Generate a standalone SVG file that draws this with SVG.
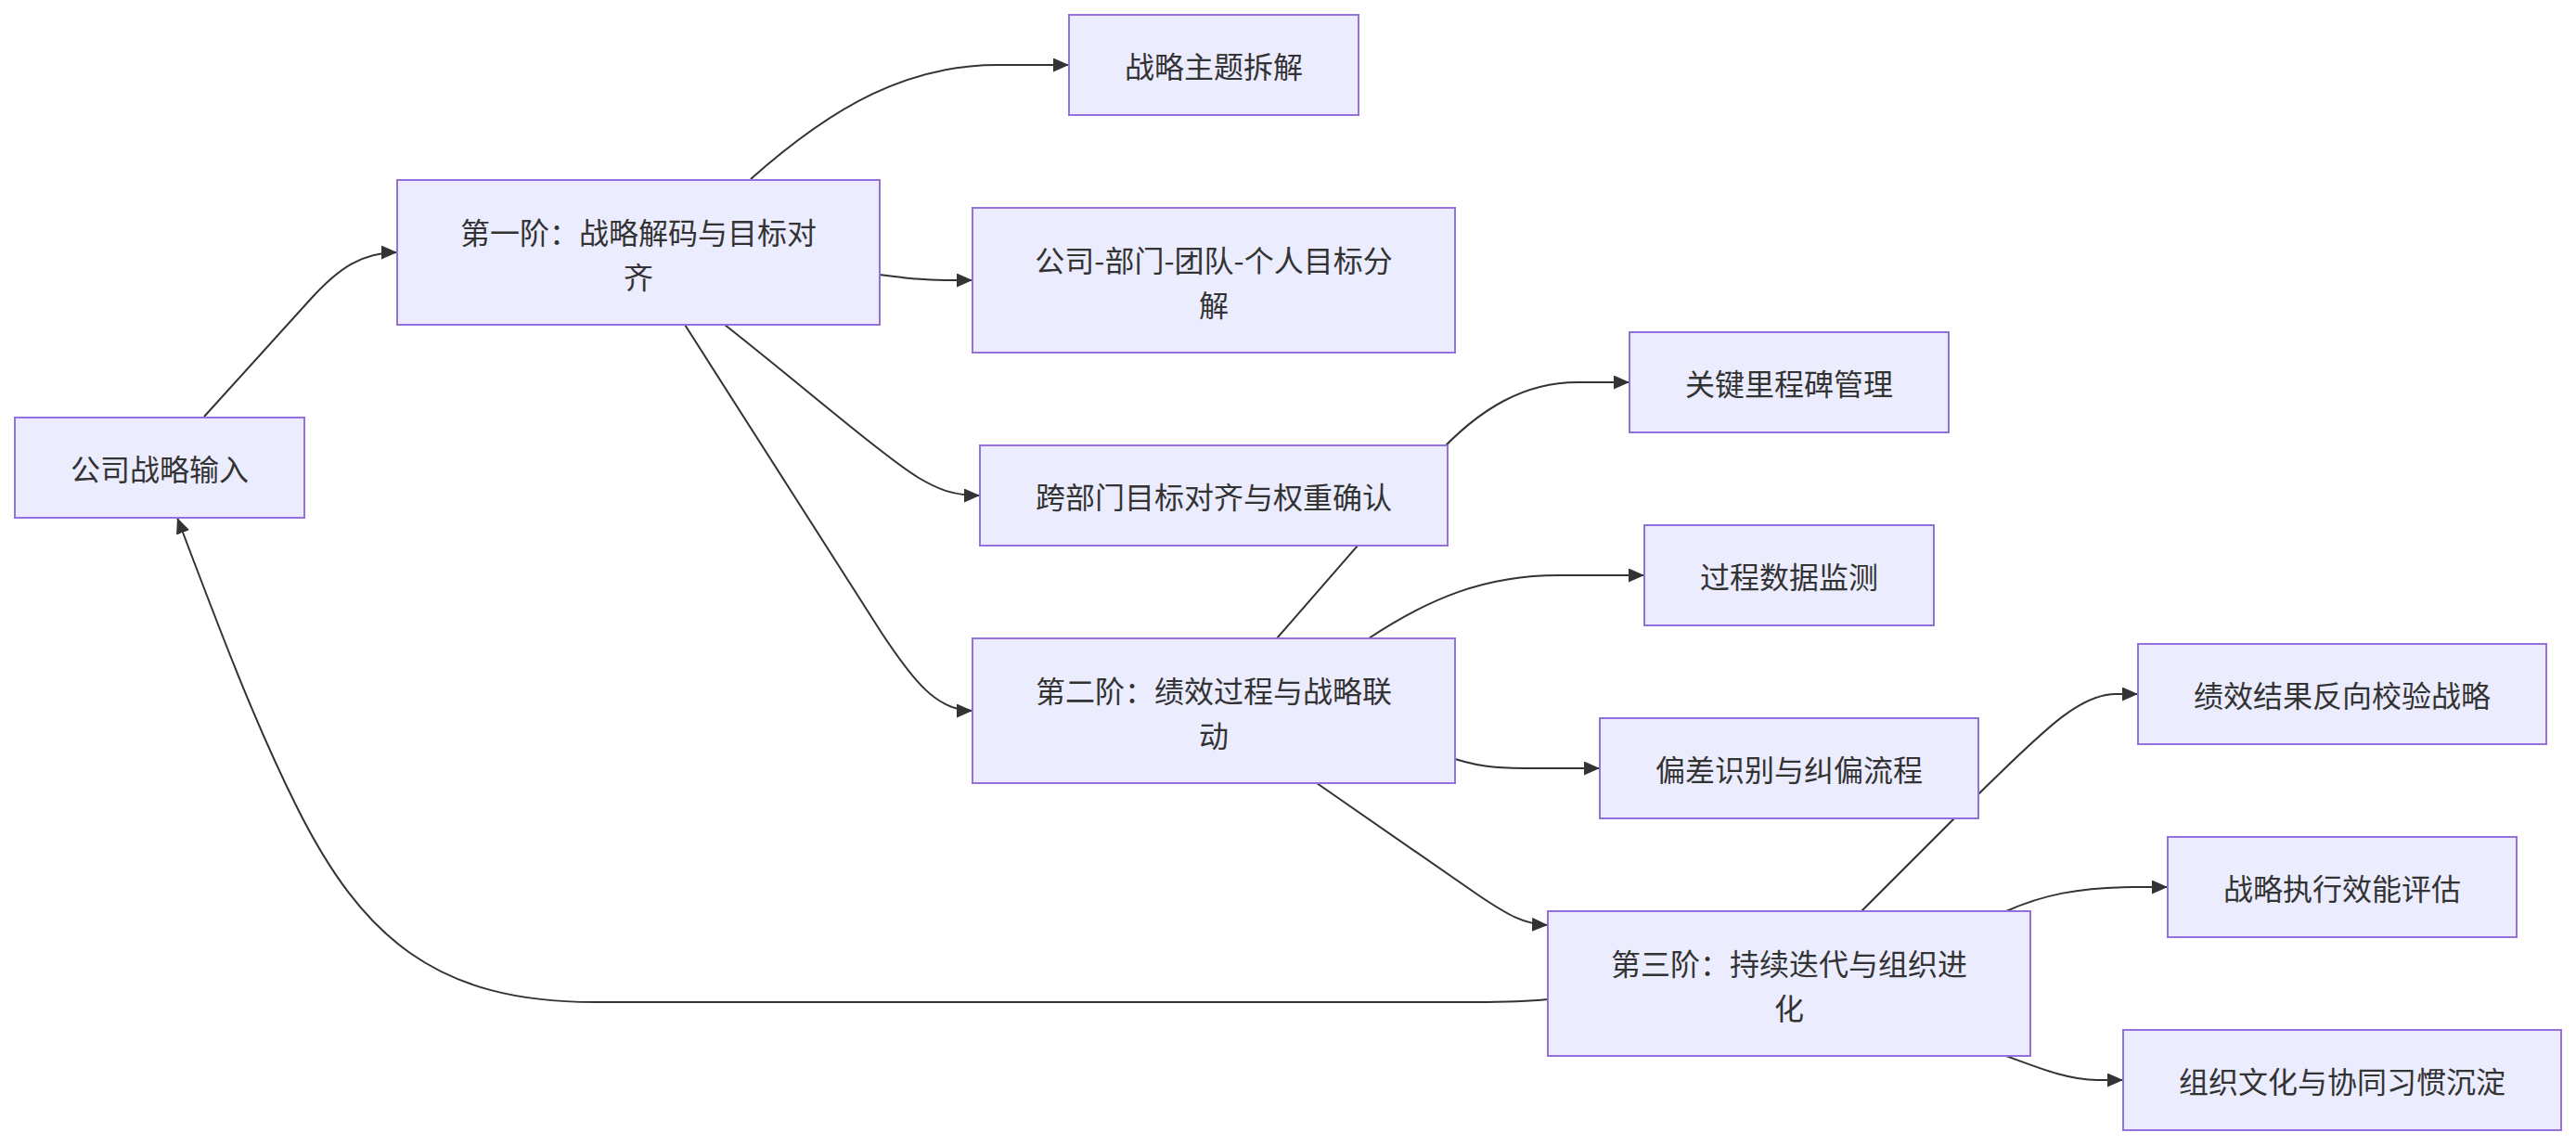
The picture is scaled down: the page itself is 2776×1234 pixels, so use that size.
<svg xmlns="http://www.w3.org/2000/svg" width="2776" height="1234" viewBox="0 0 2776 1234">
<defs>
<style>
.node rect{fill:#ECECFF;stroke:#9370DB;stroke-width:2}
.node text{font-family:"Noto Sans CJK SC","Noto Sans",sans-serif;font-size:32px;fill:#333;text-anchor:middle;dominant-baseline:central}
.edge{fill:none;stroke:#333;stroke-width:2}
</style>
<marker id="arr" markerUnits="userSpaceOnUse" markerWidth="18" markerHeight="16" refX="17" refY="7.5" orient="auto">
<path d="M0,0 L17,7.5 L0,15 z" fill="#333"/>
</marker>
</defs>
<rect width="2776" height="1234" fill="#fff"/>
<g id="edges">
<path class="edge" marker-end="url(#arr)" d="M220,449 L335,322 C365,289 390,272 428,272"/>
<path class="edge" marker-end="url(#arr)" d="M809,193 C900,112 980,70 1075,70 L1152,70"/>
<path class="edge" marker-end="url(#arr)" d="M948,296 C980,300 995,302 1020,302 L1048,302"/>
<path class="edge" marker-end="url(#arr)" d="M781,350 C860,412 950,490 990,515 C1012,528 1028,534 1056,534"/>
<path class="edge" marker-end="url(#arr)" d="M738,350 L950,682 C985,735 1010,766 1048,766"/>
<path class="edge" marker-end="url(#arr)" d="M1308,766 L1545,494 C1595,438 1645,412 1700,412 L1756,412"/>
<path class="edge" marker-end="url(#arr)" d="M1475,688 C1540,645 1600,620 1680,620 L1772,620"/>
<path class="edge" marker-end="url(#arr)" d="M1568,818 C1600,828 1620,828 1660,828 L1724,828"/>
<path class="edge" marker-end="url(#arr)" d="M1419,844 L1595,966 C1625,986 1642,996 1668,997"/>
<path class="edge" marker-end="url(#arr)" d="M1928,1060 L2140,848 C2200,790 2240,748 2280,748 L2304,748"/>
<path class="edge" marker-end="url(#arr)" d="M2162,982 C2200,965 2240,956 2300,956 L2336,956"/>
<path class="edge" marker-end="url(#arr)" d="M2162,1138 C2200,1152 2230,1164 2260,1164 L2288,1164"/>
<path class="edge" marker-end="url(#arr)" d="M1668,1077 C1640,1080 1620,1080 1590,1080 L640,1080 C470,1080 390,1010 320,870 C270,770 230,660 191,558"/>
</g>
<g id="nA" class="node"><rect x="16" y="450" width="312" height="108"/><text x="172" y="504">公司战略输入</text></g>
<g id="nB" class="node"><rect x="428" y="194" width="520" height="156"/><text x="688" y="249">第一阶：战略解码与目标对</text><text x="688" y="297">齐</text></g>
<g id="nC" class="node"><rect x="1152" y="16" width="312" height="108"/><text x="1308" y="70">战略主题拆解</text></g>
<g id="nD" class="node"><rect x="1048" y="224" width="520" height="156"/><text x="1308" y="279">公司-部门-团队-个人目标分</text><text x="1308" y="327">解</text></g>
<g id="nE" class="node"><rect x="1056" y="480" width="504" height="108"/><text x="1308" y="534">跨部门目标对齐与权重确认</text></g>
<g id="nF" class="node"><rect x="1048" y="688" width="520" height="156"/><text x="1308" y="743">第二阶：绩效过程与战略联</text><text x="1308" y="791">动</text></g>
<g id="nG" class="node"><rect x="1756" y="358" width="344" height="108"/><text x="1928" y="412">关键里程碑管理</text></g>
<g id="nH" class="node"><rect x="1772" y="566" width="312" height="108"/><text x="1928" y="620">过程数据监测</text></g>
<g id="nI" class="node"><rect x="1724" y="774" width="408" height="108"/><text x="1928" y="828">偏差识别与纠偏流程</text></g>
<g id="nJ" class="node"><rect x="1668" y="982" width="520" height="156"/><text x="1928" y="1037">第三阶：持续迭代与组织进</text><text x="1928" y="1085">化</text></g>
<g id="nK" class="node"><rect x="2304" y="694" width="440" height="108"/><text x="2524" y="748">绩效结果反向校验战略</text></g>
<g id="nL" class="node"><rect x="2336" y="902" width="376" height="108"/><text x="2524" y="956">战略执行效能评估</text></g>
<g id="nM" class="node"><rect x="2288" y="1110" width="472" height="108"/><text x="2524" y="1164">组织文化与协同习惯沉淀</text></g>
</svg>
